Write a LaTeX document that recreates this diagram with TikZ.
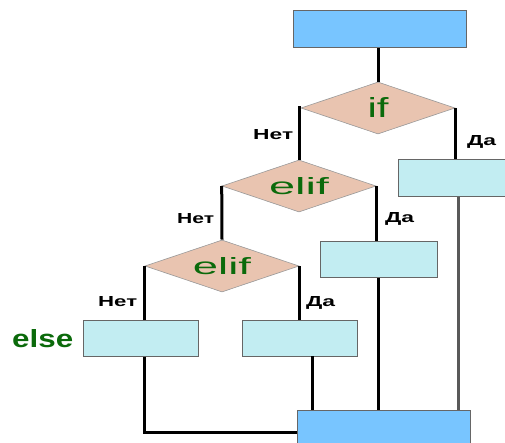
\documentclass[tikz,border=0pt]{standalone}
\usepackage{fontspec}
\setmainfont{Liberation Sans}
\usepackage{graphicx}
\usetikzlibrary{shapes.geometric}
\definecolor{topblue}{HTML}{78C5FF}
\definecolor{cyanbox}{HTML}{C2EDF2}
\definecolor{dfill}{HTML}{E9C4B0}
\definecolor{dgreen}{HTML}{0B6A0B}
\definecolor{bordergray}{HTML}{666666}
\tikzset{
  bluebox/.style={draw=bordergray, line width=1pt, fill=topblue, inner sep=0, minimum width=173pt, minimum height=37pt},
  actbox/.style={draw=bordergray, line width=1pt, fill=cyanbox, inner sep=0, minimum width=115pt, minimum height=36pt},
  cond/.style={diamond, aspect=3, draw=gray!80, line width=0.6pt, fill=dfill, inner sep=0, minimum width=154pt, minimum height=52pt, text=dgreen},
  conn/.style={line width=3pt, draw=black},
  lbl/.style={inner sep=0, anchor=base west, font=\bfseries}
}
\begin{document}
\begin{tikzpicture}[x=1pt, y=-1pt]
\useasboundingbox (0,0) rectangle (505,443);
\clip (0,0) rectangle (505,443);
% nodes
\node[bluebox] (top) at (379.5,29.5) {};
\node[cond] (if) at (378,108) {\resizebox{21pt}{20pt}{if}};
\node[actbox, minimum width=112pt, minimum height=37pt] (box1) at (454,178.5) {};
\node[cond] (elif1) at (299,186) {\resizebox{60pt}{17pt}{elif}};
\node[actbox, minimum width=117pt, minimum height=35pt] (box2) at (378.5,259.5) {};
\node[cond] (elif2) at (222,266) {\resizebox{58pt}{17pt}{elif}};
\node[actbox] (box3) at (140.5,338) {};
\node[actbox] (box4) at (299.5,338) {};
\node[bluebox, minimum height=45pt] (bot) at (383.5,432.5) {};
% labels
\node[lbl] (n1) at (253,140) {\resizebox{40pt}{10pt}{Нет}};
\node[lbl] (y1) at (467,146) {\resizebox{29pt}{10pt}{Да}};
\node[lbl] (n2) at (177,224) {\resizebox{37pt}{10pt}{Нет}};
\node[lbl] (y2) at (385,223) {\resizebox{29pt}{10pt}{Да}};
\node[lbl] (n3) at (98,306) {\resizebox{39pt}{10pt}{Нет}};
\node[lbl] (y3) at (306,306) {\resizebox{29pt}{10pt}{Да}};
\node[lbl, text=dgreen] (els) at (12,347) {\resizebox{61pt}{18pt}{else}};
% helper coordinates
\coordinate (c1) at (458,197);
\coordinate (d4) at (312,356);
% connectors
\draw[conn] (if.north) -- (if.north |- top.south);
\draw[conn] (if.west) -| (elif1.north);
\draw[conn] (if.east) -- (if.east |- box1.north);
\draw[conn, draw=black!65] (c1) -- (c1 |- bot.north);
\draw[conn] (elif1.east) -- (elif1.east |- box2.north);
\draw[conn] (box2.south) -- (box2.south |- bot.north);
\draw[conn] (elif1.west) -- (elif2.north);
\draw[conn] (elif2.west) -- (elif2.west |- box3.north);
\draw[conn] (elif2.east) -- (elif2.east |- box4.north);
\draw[conn] (d4) -- (d4 |- bot.north);
\draw[conn] (elif2.west |- box3.south) |- (bot.west);
\end{tikzpicture}
\end{document}
